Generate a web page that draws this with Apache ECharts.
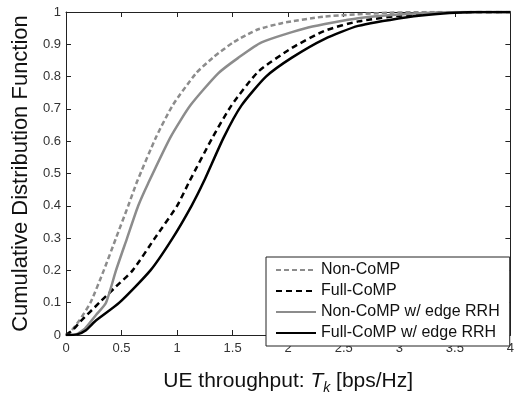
<!DOCTYPE html>
<html><head><meta charset="utf-8">
<script src="https://cdn.jsdelivr.net/npm/echarts@6/dist/echarts.min.js"></script>
<style>html,body{margin:0;padding:0;background:#fff}#c{width:517px;height:400px}</style>
</head><body><div id="c"></div>
<script>
const seriesNames = ['Non-CoMP', 'Full-CoMP', 'Non-CoMP w/ edge RRH', 'Full-CoMP w/ edge RRH'];
const nonCoMP = [[0,0],[0.04,0.01],[0.12,0.045],[0.22,0.10],[0.34,0.20],[0.45,0.30],[0.56,0.40],[0.64,0.475],[0.81,0.612],[0.96,0.711],[1.17,0.81],[1.32,0.858],[1.51,0.907],[1.72,0.945],[1.95,0.966],[2.33,0.986],[2.92,0.998],[3.5,1],[4,1]];
const fullCoMP = [[0,0],[0.06,0.015],[0.13,0.042],[0.30,0.10],[0.45,0.15],[0.60,0.20],[0.80,0.30],[1.00,0.40],[1.11,0.475],[1.32,0.612],[1.49,0.711],[1.73,0.815],[2.03,0.888],[2.33,0.942],[2.63,0.971],[3.07,0.991],[3.5,0.999],[4,1]];
const nonCoMPEdge = [[0,0],[0.09,0.002],[0.17,0.02],[0.27,0.062],[0.36,0.10],[0.45,0.20],[0.55,0.30],[0.65,0.40],[0.74,0.47],[0.94,0.612],[1.12,0.711],[1.37,0.81],[1.55,0.858],[1.76,0.906],[2.18,0.952],[2.63,0.981],[3.07,0.994],[3.6,1],[4,1]];
const fullCoMPEdge = [[0,0],[0.1,0.002],[0.18,0.015],[0.26,0.042],[0.48,0.10],[0.76,0.20],[0.96,0.30],[1.13,0.40],[1.24,0.475],[1.42,0.612],[1.58,0.711],[1.80,0.80],[2.03,0.858],[2.33,0.917],[2.63,0.957],[3.07,0.984],[3.34,0.994],[3.7,1],[4,1]];
const xMin = 0, xMax = 4, xStep = 0.5;
const yMin = 0, yMax = 1, yStep = 0.1;

const FONT = '"Liberation Sans", Arial, sans-serif';
const chart = echarts.init(document.getElementById('c'), null, {renderer: 'canvas'});
const axisCommon = {
  axisLine: {show: true, onZero: false, lineStyle: {color: '#222', width: 1}},
  axisTick: {show: true, inside: true, length: 5, lineStyle: {color: '#222'}},
  splitLine: {show: false}
};
const option = {
  animation: false,
  backgroundColor: '#fff',
  textStyle: {fontFamily: FONT},
  grid: {left: 66, right: 3, top: 12, bottom: 49, containLabel: false},
  legend: {
    orient: 'vertical', left: 266, top: 257,
    padding: [5, 10, 5, 9], itemGap: 5, itemWidth: 40, itemHeight: 14,
    borderColor: '#222', borderWidth: 1, backgroundColor: '#fff',
    itemStyle: {opacity: 0},
    textStyle: {fontFamily: FONT, fontSize: 16, color: '#111', lineHeight: 16},
    data: seriesNames
  },
  xAxis: [
    Object.assign({type: 'value', min: xMin, max: xMax, interval: xStep, position: 'bottom',
      axisLabel: {fontFamily: FONT, fontSize: 13, color: '#333', margin: 7},
      name: '{n|UE throughput: }{i|T}{s|k}{n| [bps/Hz]}',
      nameLocation: 'middle', nameGap: 32,
      nameTextStyle: {rich: {
        n: {fontFamily: FONT, fontSize: 21, color: '#111', lineHeight: 28, verticalAlign: 'middle'},
        i: {fontFamily: FONT, fontSize: 21, color: '#111', fontStyle: 'italic', lineHeight: 28, verticalAlign: 'middle'},
        s: {fontFamily: FONT, fontSize: 14, color: '#111', fontStyle: 'italic', lineHeight: 14, verticalAlign: 'bottom'}
      }}
    }, axisCommon),
    Object.assign({type: 'value', min: xMin, max: xMax, interval: xStep, position: 'top',
      axisLabel: {show: false}}, axisCommon)
  ],
  yAxis: [
    Object.assign({type: 'value', min: yMin, max: yMax, interval: yStep, position: 'left',
      axisLabel: {fontFamily: FONT, fontSize: 13, color: '#333', margin: 5},
      name: 'Cumulative Distribution Function', nameLocation: 'middle', nameGap: 29,
      nameTextStyle: {fontFamily: FONT, fontSize: 22, color: '#111'}
    }, axisCommon),
    Object.assign({type: 'value', min: yMin, max: yMax, interval: yStep, position: 'right',
      axisLabel: {show: false}}, axisCommon)
  ],
  series: [
    {name: seriesNames[0], type: 'line', data: nonCoMP, symbol: 'none', smooth: 0.2,
     lineStyle: {color: '#8c8c8c', width: 2.5, type: [5, 3]}, itemStyle: {color: '#8c8c8c'}},
    {name: seriesNames[1], type: 'line', data: fullCoMP, symbol: 'none', smooth: 0.2,
     lineStyle: {color: '#000', width: 2.5, type: [6, 4]}, itemStyle: {color: '#000'}},
    {name: seriesNames[2], type: 'line', data: nonCoMPEdge, symbol: 'none', smooth: 0.2,
     lineStyle: {color: '#8c8c8c', width: 2.5}, itemStyle: {color: '#8c8c8c'}},
    {name: seriesNames[3], type: 'line', data: fullCoMPEdge, symbol: 'none', smooth: 0.2,
     lineStyle: {color: '#000', width: 2.5}, itemStyle: {color: '#000'}}
  ]
};
chart.setOption(option);
</script></body></html>
